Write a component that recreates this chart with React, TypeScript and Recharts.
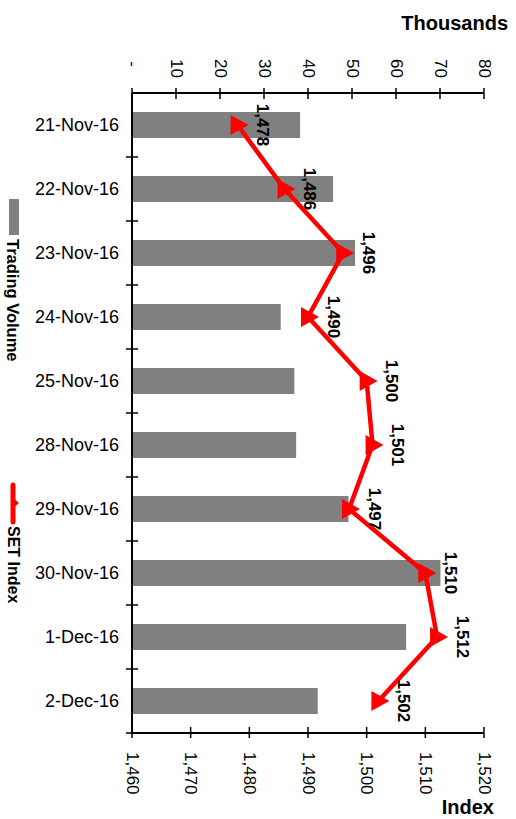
import React from "react";
import {
  ComposedChart,
  Bar,
  Line,
  XAxis,
  YAxis,
  Legend,
} from "recharts";

const dates = [
  "21-Nov-16",
  "22-Nov-16",
  "23-Nov-16",
  "24-Nov-16",
  "25-Nov-16",
  "28-Nov-16",
  "29-Nov-16",
  "30-Nov-16",
  "1-Dec-16",
  "2-Dec-16",
];
// trading volume, thousands
const volumes = [38.2, 45.7, 50.7, 33.8, 36.9, 37.3, 49.2, 70.1, 62.3, 42.2];
const setIndex = [1478, 1486, 1496, 1490, 1500, 1501, 1497, 1510, 1512, 1502];
const volumeTicks = [0, 10, 20, 30, 40, 50, 60, 70, 80];
const indexTicks = [1460, 1470, 1480, 1490, 1500, 1510, 1520];

const data = dates.map((date, i) => ({
  date,
  volume: volumes[i],
  index: setIndex[i],
}));

const FONT = "'Liberation Sans', Arial, sans-serif";
const BAND = 64;

const fmt = (v: number) => v.toLocaleString("en-US");

function VolTick(props: { x?: number; y?: number; payload?: { value: number } }) {
  const { x = 0, y = 0, payload } = props;
  const v = payload ? payload.value : 0;
  return (
    <g>
      <line x1={x} x2={x} y1={y - 5} y2={y + 6} stroke="#000" strokeWidth={1.5} />
      <text
        transform={`translate(${x},${v === 0 ? y - 26 : y - 15}) rotate(90)`}
        textAnchor="end"
        dominantBaseline="central"
        fontFamily={FONT}
        fontSize={17}
        fill="#000"
      >
        {v === 0 ? "-" : fmt(v)}
      </text>
    </g>
  );
}

function IdxTick(props: { x?: number; y?: number; payload?: { value: number } }) {
  const { x = 0, y = 0, payload } = props;
  const v = payload ? payload.value : 0;
  return (
    <g>
      <line x1={x} x2={x} y1={y - 6} y2={y + 5} stroke="#000" strokeWidth={1.5} />
      <text
        transform={`translate(${x},${y + 19}) rotate(90)`}
        textAnchor="start"
        dominantBaseline="central"
        fontFamily={FONT}
        fontSize={17}
        fill="#000"
      >
        {fmt(v)}
      </text>
    </g>
  );
}

function DateTick(props: { x?: number; y?: number; payload?: { value: string } }) {
  const { x = 0, y = 0, payload } = props;
  return (
    <g>
      <line x1={x - 6} x2={x + 6} y1={y + BAND / 2} y2={y + BAND / 2} stroke="#000" strokeWidth={1.5} />
      <text
        x={x - 13}
        y={y}
        textAnchor="end"
        dominantBaseline="central"
        fontFamily={FONT}
        fontSize={18}
        fill="#000"
      >
        {payload ? payload.value : ""}
      </text>
    </g>
  );
}

function TriDot(props: { cx?: number; cy?: number }) {
  const { cx, cy } = props;
  if (cx == null || cy == null) return null;
  return (
    <polygon
      points={`${cx + 11},${cy} ${cx - 7},${cy - 10} ${cx - 7},${cy + 10}`}
      fill="#ff0000"
    />
  );
}

function IdxLabel(props: { x?: number; y?: number; value?: number }) {
  const { x = 0, y = 0, value = 0 } = props;
  return (
    <text
      transform={`translate(${x + 25},${y}) rotate(90)`}
      textAnchor="middle"
      dominantBaseline="central"
      fontFamily={FONT}
      fontSize={17}
      fontWeight="bold"
      fill="#000"
    >
      {fmt(value)}
    </text>
  );
}

function LegendBox() {
  return (
    <svg width={30} height={819} style={{ display: "block" }}>
      <rect x={9} y={199} width={10} height={36} fill="#808080" />
      <text
        transform="translate(13,239) rotate(90)"
        textAnchor="start"
        dominantBaseline="central"
        fontFamily={FONT}
        fontSize={16.5}
        fontWeight="bold"
      >
        Trading Volume
      </text>
      <line x1={13} x2={13} y1={485} y2={522} stroke="#ff0000" strokeWidth={5} strokeLinecap="round" />
      <polygon points="19,503 12,497 12,509" fill="#ff0000" />
      <text
        transform="translate(13,526) rotate(90)"
        textAnchor="start"
        dominantBaseline="central"
        fontFamily={FONT}
        fontSize={16}
        fontWeight="bold"
      >
        SET Index
      </text>
    </svg>
  );
}

export default function App() {
  return (
    <div style={{ position: "absolute", left: 0, top: 0, width: 516, height: 819, background: "#fff" }}>
      <ComposedChart
        layout="vertical"
        width={516}
        height={819}
        data={data}
        margin={{ top: 0, right: 32, bottom: 0, left: 0 }}
      >
        <Legend
          layout="vertical"
          align="left"
          verticalAlign="top"
          content={() => <LegendBox />}
          wrapperStyle={{ left: 0, top: 0, width: 30, height: 819 }}
        />
        <XAxis
          xAxisId="vol"
          orientation="top"
          type="number"
          domain={[0, 80]}
          ticks={volumeTicks}
          height={93}
          tickSize={0}
          tickMargin={0}
          tickLine={false}
          axisLine={{ stroke: "#000", strokeWidth: 2 }}
          tick={<VolTick />}
          label={{
            content: () => (
              <text x={508} y={30} textAnchor="end" fontFamily={FONT} fontSize={20} fontWeight="bold">
                Thousands
              </text>
            ),
          }}
        />
        <XAxis
          xAxisId="idx"
          orientation="bottom"
          type="number"
          domain={[1460, 1520]}
          ticks={indexTicks}
          height={86}
          tickSize={0}
          tickMargin={0}
          tickLine={false}
          axisLine={{ stroke: "#000", strokeWidth: 2 }}
          tick={<IdxTick />}
          label={{
            content: () => (
              <text x={494} y={814} textAnchor="end" fontFamily={FONT} fontSize={20} fontWeight="bold">
                Index
              </text>
            ),
          }}
        />
        <YAxis
          type="category"
          dataKey="date"
          width={102}
          tickSize={0}
          tickMargin={0}
          tickLine={false}
          axisLine={{ stroke: "#000", strokeWidth: 2 }}
          tick={<DateTick />}
          interval={0}
        />
        <Bar
          xAxisId="vol"
          dataKey="volume"
          name="Trading Volume"
          fill="#808080"
          barSize={26}
          isAnimationActive={false}
        />
        <Line
          xAxisId="idx"
          dataKey="index"
          name="SET Index"
          type="linear"
          stroke="#ff0000"
          strokeWidth={4.5}
          dot={<TriDot />}
          activeDot={false}
          label={<IdxLabel />}
          isAnimationActive={false}
        />
      </ComposedChart>
    </div>
  );
}
